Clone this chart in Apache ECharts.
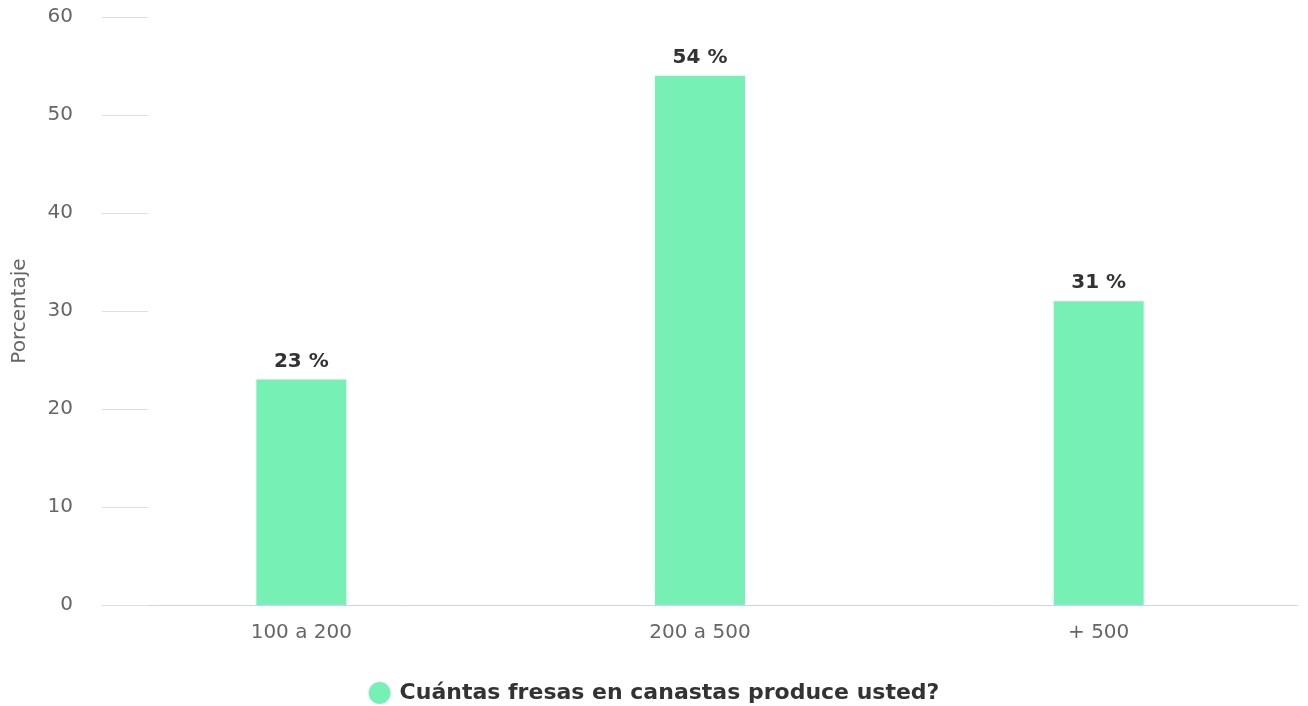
<!DOCTYPE html>
<html>
<head>
<meta charset="utf-8">
<script src="https://cdn.jsdelivr.net/npm/echarts@6/dist/echarts.min.js"></script>
<style>html,body{margin:0;padding:0;background:#fff}#c{width:1308px;height:706px}</style>
</head>
<body>
<div id="c"></div>
<script>
const categories = ["100 a 200", "200 a 500", "+ 500"];
const values = [23, 54, 31];
const seriesName = "Cuántas fresas en canastas produce usted?";
const yTicks = [0, 10, 20, 30, 40, 50, 60];

const FF = "'DejaVu Sans', Verdana, sans-serif";
const chart = echarts.init(document.getElementById('c'));
chart.setOption({
  animation: false,
  textStyle: { fontFamily: FF },
  grid: { left: 102, right: 10, top: 17, bottom: 101, outerBoundsMode: 'none', containLabel: false },
  legend: {
    top: 677, left: 'center',
    icon: 'circle', itemWidth: 22, itemHeight: 22, itemGap: 14,
    textStyle: { fontSize: 22, fontWeight: 'bold', color: '#333', fontFamily: FF, padding: [0, 0, 0, 4] },
    data: [seriesName]
  },
  xAxis: {
    type: 'category', data: categories,
    axisLine: { lineStyle: { color: '#ccd6eb', width: 1 } },
    axisTick: { show: false },
    axisLabel: { fontSize: 20, color: '#666', margin: 18, fontFamily: FF }
  },
  yAxis: {
    type: 'value', min: yTicks[0], max: yTicks[yTicks.length - 1], interval: 10,
    name: 'Porcentaje', nameLocation: 'middle', nameGap: 72, nameRotate: 90,
    nameTextStyle: { fontSize: 20, color: '#666', fontFamily: FF },
    axisLine: { show: false },
    axisTick: { show: true, inside: true, length: 46, lineStyle: { color: '#e0e0e0', width: 1 } },
    splitLine: { show: false },
    axisLabel: { fontSize: 20, color: '#666', margin: 29, fontFamily: FF, padding: [3, 0, 0, 0] }
  },
  series: [{
    name: seriesName, type: 'bar', data: values, barWidth: 90,
    itemStyle: { color: '#76f0b4' },
    label: { show: true, position: 'top', formatter: '{c} %', fontSize: 20, fontWeight: 'bold', color: '#333', distance: 8, fontFamily: FF }
  }]
});
</script>
</body>
</html>
